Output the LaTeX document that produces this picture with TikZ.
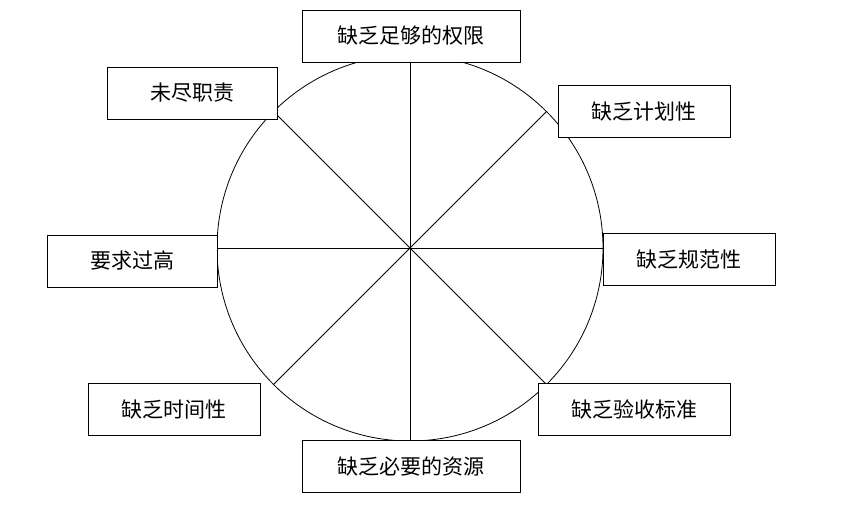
\documentclass[tikz,border=0pt]{standalone}
\usepackage{fontspec}
\newfontfamily\cjk{Noto Sans CJK SC}
\usetikzlibrary{calc}
\tikzset{
  reason/.style={draw, fill=white, line width=0.8pt, minimum height=52pt, inner sep=0pt, font=\cjk\fontsize{21}{24}\selectfont}
}
\begin{document}
\begin{tikzpicture}[x=1pt,y=-1pt]
  \useasboundingbox (0,0) rectangle (864,512);
  % wheel
  \coordinate (O) at (410,248);
  \draw[line width=0.8pt] (O) circle[radius=193];
  \foreach \a in {0,45,...,315}
    \draw[line width=0.8pt] (O) -- ++(\a:193);
  % reasons
  \node[reason, minimum width=218pt] (auth) at (411,36) {缺乏足够的权限};
  \node[reason, minimum width=170pt] (duty) at (192,93) {未尽职责};
  \node[reason, minimum width=172pt] (plan) at (644,111) {缺乏计划性};
  \node[reason, minimum width=170pt] (high) at (132,261) {要求过高};
  \node[reason, minimum width=172pt] (norm) at (689,259) {缺乏规范性};
  \node[reason, minimum width=172pt] (time) at (174,409) {缺乏时间性};
  \node[reason, minimum width=192pt] (accept) at (634,409) {缺乏验收标准};
  \node[reason, minimum width=218pt] (res) at (411,466) {缺乏必要的资源};
\end{tikzpicture}
\end{document}
